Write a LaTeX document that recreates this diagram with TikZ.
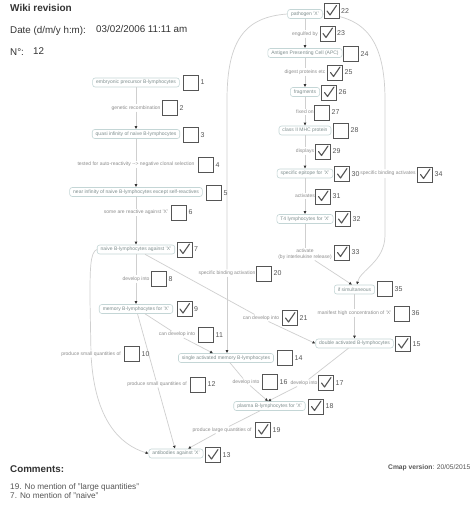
\documentclass[tikz,border=0pt]{standalone}
\usepackage{fontspec}
\setmainfont{Liberation Sans}
\usetikzlibrary{arrows.meta}
\definecolor{lnc}{HTML}{CFCFCF}
\definecolor{bxc}{HTML}{C4D6D6}
\definecolor{txc}{HTML}{7F8E8E}
\definecolor{lbc}{HTML}{8E8E8E}
\definecolor{cbc}{HTML}{555555}
\definecolor{hdc}{HTML}{333333}
\definecolor{arc}{HTML}{333333}
\newcommand\mkcb[3]{\node[cbx] (#1) at (#2) {}; \node[num] (#1n) at ([xshift=1.5pt]#1.east) {#3};}
\newcommand\mktick[1]{\draw[tick] ([xshift=-4.5pt]#1.center) -- ++(3,4) -- ++(6.5,-9.5);}
\tikzset{
 concept/.style={draw=bxc, fill=white, rounded corners=2.5pt, line width=0.6pt, font=\fontsize{5}{6}\selectfont, text=txc, inner xsep=3.5pt, inner ysep=0pt, minimum height=9pt},
 link/.style={fill=white, font=\fontsize{5}{6}\selectfont, text=lbc, inner sep=1pt, align=center},
 cbx/.style={draw=cbc, fill=white, line width=1pt, minimum size=15pt, inner sep=0pt},
 num/.style={font=\fontsize{7}{8}\selectfont, text=cbc, anchor=west, inner sep=0pt},
 conn/.style={draw=lnc, line width=0.7pt},
 arr/.style={conn, -{Latex[length=3pt,width=3pt,color=arc]}},
 tick/.style={draw=cbc, line width=1.1pt, line cap=round, line join=round},
 hdr/.style={anchor=west, inner sep=0pt, text=hdc},
}
\begin{document}
\begin{tikzpicture}[x=1pt,y=-1pt]
\fill[white] (0,0) rectangle (474,506);
\useasboundingbox (0,0) rectangle (474,506);

% header
\node[hdr, font=\fontsize{10}{12}\selectfont\bfseries] (title) at (10,8) {Wiki revision};
\node[hdr, font=\fontsize{9.8}{12}\selectfont] (datek) at (10,31) {Date (d/m/y h:m):};
\node[hdr, font=\fontsize{9.8}{12}\selectfont] (datev) at (96,29) {03/02/2006 11:11 am};
\node[hdr, font=\fontsize{9.8}{12}\selectfont] (nok) at (10,52) {N°:};
\node[hdr, font=\fontsize{9.8}{12}\selectfont] (nov) at (33,51) {12};

% concepts left
\node[concept] (A1) at (136,82.5) {embryonic precursor B-lymphocytes};
\node[concept] (A2) at (136,134) {quasi infinity of naive B-lymphocytes};
\node[concept] (A3) at (136,192) {near infinity of naive B-lymphocytes except self-reactives};
\node[concept] (A4) at (136,249.5) {naive B-lymphocytes against 'X'};
\node[concept] (A5) at (136,309) {memory B-lymphocytes for 'X'};
\node[concept] (S) at (226,358) {single activated memory B-lymphocytes};
\node[concept] (D) at (354.5,343.5) {double activated B-lymphocytes};
\node[concept] (P) at (269.5,406) {plasma B-lymphocytes for 'X'};
\node[concept] (AB) at (176,453.5) {antibodies against 'X'};
% concepts right
\node[concept] (R1) at (305,14) {pathogen 'X'};
\node[concept] (R2) at (305,53) {Antigen Presenting Cell (APC)};
\node[concept] (R3) at (305,92) {fragments};
\node[concept] (R4) at (305,130.5) {class II MHC protein};
\node[concept] (R5) at (305,173.5) {specific epitope for 'X'};
\node[concept] (R6) at (305,219) {T4 lymphocytes for 'X'};
\node[concept] (IF) at (354.5,289.5) {if simultaneous};

% linking phrases
\node[link] (L1) at (136,108) {genetic recombination};
\node[link] (L2) at (136,164.5) {tested for auto-reactivity {-}{-}> negative clonal selection};
\node[link] (L3) at (136,212.5) {some are reactive against 'X'};
\node[link] (L4) at (136,279) {develop into};
\node[link] (L5) at (177,334.5) {can develop into};
\node[link] (L6) at (91,354) {produce small quantities of};
\node[link] (L7) at (157,384) {produce small quantities of};
\node[link] (L8) at (227,273) {specific binding activation};
\node[link] (L9) at (261,318) {can develop into};
\node[link] (L10) at (246,382) {develop into};
\node[link] (L11) at (304,383) {develop into};
\node[link] (L12) at (222,430) {produce large quantities of};
\node[link] (L13) at (305,34) {engulfed by};
\node[link] (L14) at (305,72) {digest proteins etc};
\node[link] (L15) at (305,112) {fixed on};
\node[link] (L16) at (305,151) {displays};
\node[link] (L17) at (305,196) {activates};
\node[link, font=\fontsize{5}{5.8}\selectfont] (L18) at (305,254) {activate\\(by interleukine release)};
\node[link, inner xsep=0.3pt] (L19) at (388,173.5) {specific binding activates};
\node[link] (L20) at (354.5,313) {manifest high concentration of 'X'};

% connectors left column
\draw[conn] (A1) -- (L1); \draw[arr] (L1) -- (A2);
\draw[conn] (A2) -- (L2); \draw[arr] (L2) -- (A3);
\draw[conn] (A3) -- (L3); \draw[arr] (L3) -- (A4);
\draw[conn] (A4) -- (L4); \draw[arr] (L4) -- (A5);
\draw[conn] ([xshift=9pt]A4.south) -- (L9); \draw[arr] (L9) -- (D.west);
\draw[conn] (A4.west) .. controls (90,252) and (90,270) .. (90,300) -- (L6);
\draw[arr] (L6) .. controls (95,420) and (120,445) .. (AB.west);
\draw[conn] ([xshift=9pt]A5.south) -- (L5); \draw[arr] (L5) -- ([xshift=-13pt]S.north);
\draw[conn] ([xshift=1.5pt]A5.south) -- (L7); \draw[arr] (L7) -- ([xshift=-1pt]AB.north);
% pathogen branches
\draw[conn] (R1.west) .. controls (245,17) and (227,40) .. (227,100) -- (L8);
\draw[arr] (L8) -- (L8 |- S.north);
\draw[conn] (R1.east) .. controls (365,17) and (385,40) .. (385,100) -- (385,169);
\draw[arr] (385,178) -- (385,235) .. controls (385,262) and (360,270) .. ([xshift=2.5pt]IF.north);
% right column
\draw[conn] (R1) -- (L13); \draw[arr] (L13) -- (R2);
\draw[conn] (R2) -- (L14); \draw[arr] (L14) -- (R3);
\draw[conn] (R3) -- (L15); \draw[arr] (L15) -- (R4);
\draw[conn] (R4) -- (L16); \draw[arr] (L16) -- (R5);
\draw[conn] (R5) -- (L17); \draw[arr] (L17) -- (R6);
\draw[conn] (R6) -- (L18); \draw[arr] (L18) -- ([xshift=-2.5pt]IF.north);
\draw[conn] (IF) -- (L20); \draw[arr] (L20) -- (D);
% lower
\draw[conn] (S) -- (L10); \draw[arr] (L10) -- ([xshift=-1.5pt]P.north);
\draw[conn] (D) -- (L11); \draw[arr] (L11) -- ([xshift=-1.5pt]P.north);
\draw[conn] (P) -- (L12); \draw[arr] (L12) -- ([xshift=12pt]AB.north);

% checkboxes
\mkcb{c1}{191,82.5}{1}
\mkcb{c2}{170,108}{2}
\mkcb{c3}{191,135}{3}
\mkcb{c4}{206,165}{4}
\mkcb{c5}{214,193}{5}
\mkcb{c6}{179,212.5}{6}
\mkcb{c7}{184.5,249.5}{7}\mktick{c7}
\mkcb{c8}{159,279}{8}
\mkcb{c9}{184.5,309}{9}\mktick{c9}
\mkcb{c10}{132,354}{10}
\mkcb{c11}{206,335}{11}
\mkcb{c12}{198,384.5}{12}
\mkcb{c13}{213,455}{13}\mktick{c13}
\mkcb{c14}{285,358}{14}
\mkcb{c15}{403,344}{15}\mktick{c15}
\mkcb{c16}{270,382}{16}
\mkcb{c17}{326,383}{17}\mktick{c17}
\mkcb{c18}{316,406.5}{18}\mktick{c18}
\mkcb{c19}{263,430}{19}\mktick{c19}
\mkcb{c20}{264,273.5}{20}
\mkcb{c21}{290,318}{21}\mktick{c21}
\mkcb{c22}{331.5,11}{22}\mktick{c22}
\mkcb{c23}{327.5,33.5}{23}\mktick{c23}
\mkcb{c24}{351,54}{24}
\mkcb{c25}{335,72.5}{25}\mktick{c25}
\mkcb{c26}{329,92.5}{26}\mktick{c26}
\mkcb{c27}{322,112.5}{27}
\mkcb{c28}{341,130.5}{28}
\mkcb{c29}{323,151.5}{29}\mktick{c29}
\mkcb{c30}{342,174}{30}\mktick{c30}
\mkcb{c31}{323,196.5}{31}\mktick{c31}
\mkcb{c32}{343,219}{32}\mktick{c32}
\mkcb{c33}{342,252.5}{33}\mktick{c33}
\mkcb{c34}{425,174.5}{34}\mktick{c34}
\mkcb{c35}{385,289}{35}
\mkcb{c36}{402,313.5}{36}

% footer
\node[hdr, font=\fontsize{9.8}{12}\selectfont\bfseries] (cmt) at (10,469) {Comments:};
\node[hdr, font=\fontsize{8.2}{9}\selectfont, text=cbc] (cm1) at (10,487) {19. No mention of "large quantities"};
\node[hdr, font=\fontsize{8.2}{9}\selectfont, text=cbc] (cm2) at (10,496) {7. No mention of "naive"};
\node[hdr, font=\fontsize{6.7}{8}\selectfont, text=cbc] (ver) at (388,468) {\textbf{Cmap version}: 20/05/2015};
\end{tikzpicture}
\end{document}
